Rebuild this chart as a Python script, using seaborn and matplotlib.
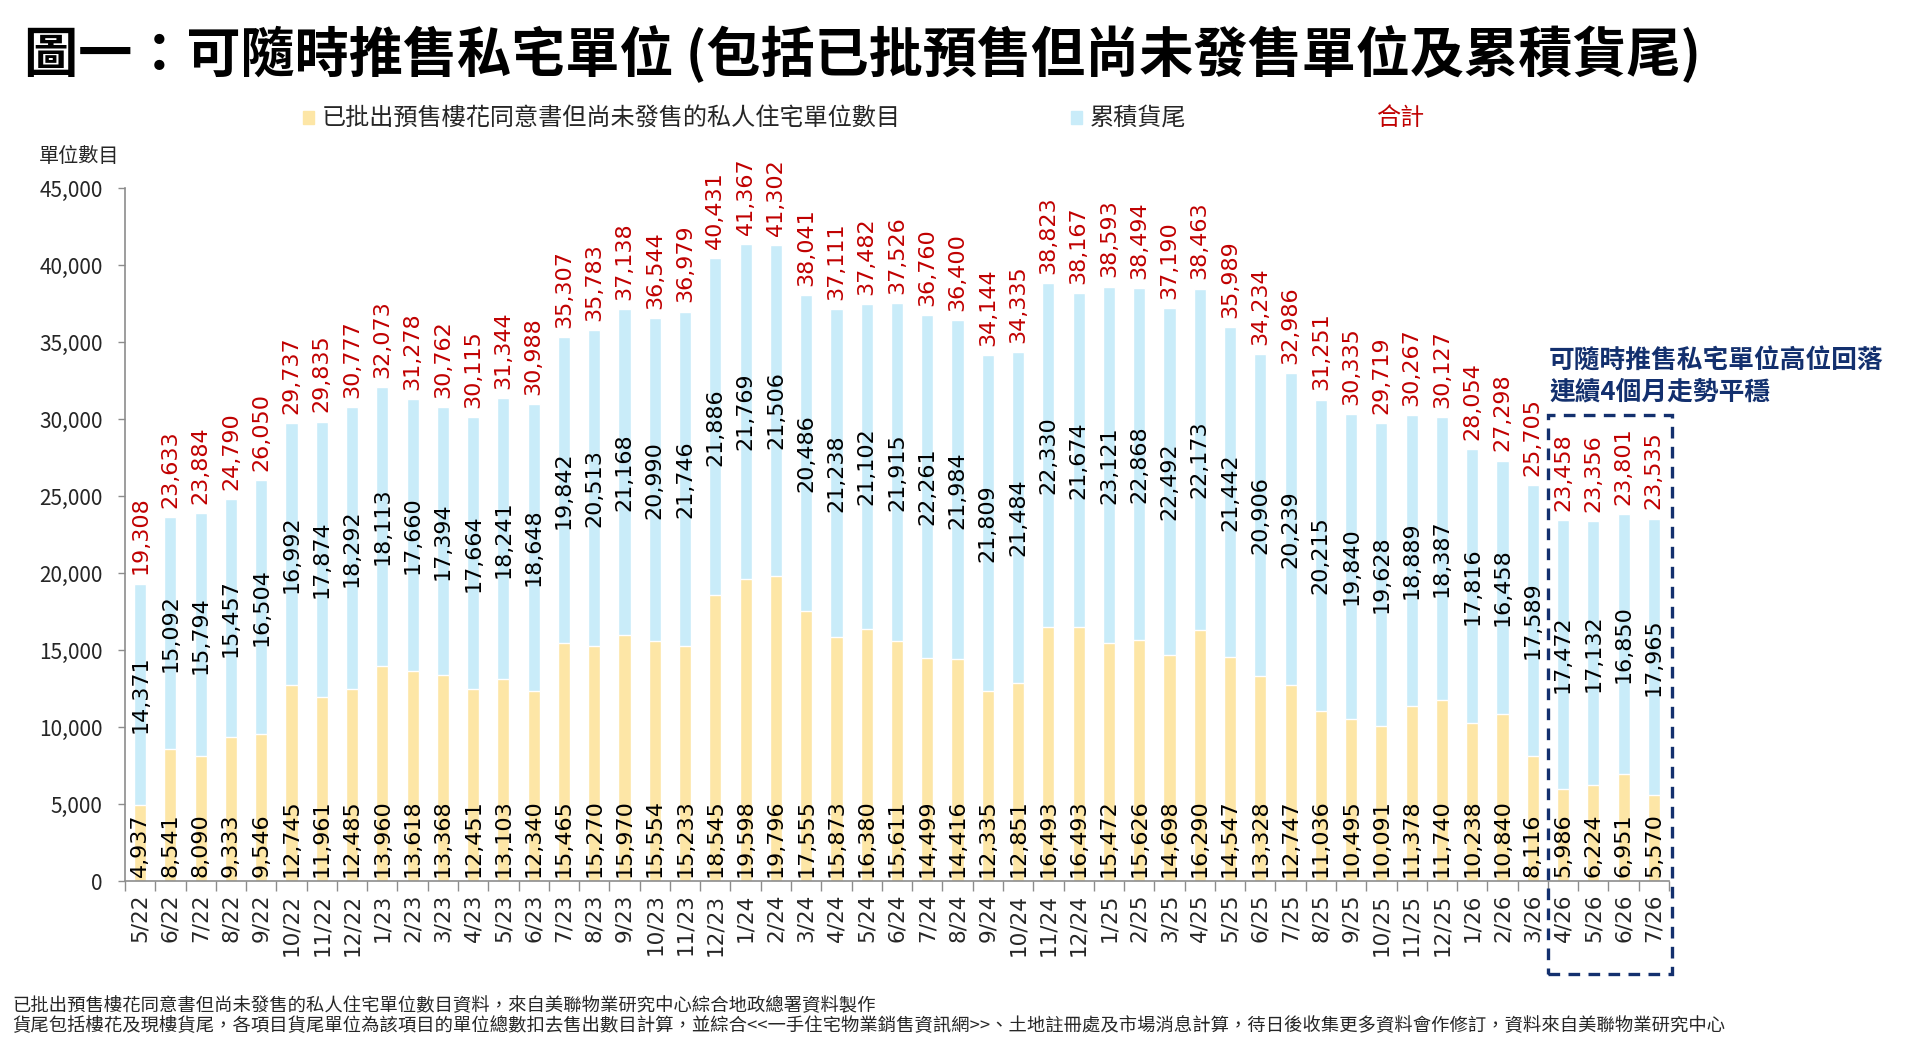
import matplotlib
matplotlib.use('Agg')
import matplotlib.pyplot as plt
import numpy as np
import pandas as pd
import seaborn as sns
from matplotlib.patches import Rectangle
from matplotlib.ticker import FuncFormatter, FixedLocator

# ---------------- data ----------------
months = ['5/22', '6/22', '7/22', '8/22', '9/22', '10/22', '11/22', '12/22',
          '1/23', '2/23', '3/23', '4/23', '5/23', '6/23', '7/23', '8/23', '9/23',
          '10/23', '11/23', '12/23', '1/24', '2/24', '3/24', '4/24', '5/24', '6/24',
          '7/24', '8/24', '9/24', '10/24', '11/24', '12/24', '1/25', '2/25', '3/25',
          '4/25', '5/25', '6/25', '7/25', '8/25', '9/25', '10/25', '11/25', '12/25',
          '1/26', '2/26', '3/26', '4/26', '5/26', '6/26', '7/26']

presale = [4937, 8541, 8090, 9333, 9546, 12745, 11961, 12485, 13960, 13618, 13368,
           12451, 13103, 12340, 15465, 15270, 15970, 15554, 15233, 18545, 19598,
           19796, 17555, 15873, 16380, 15611, 14499, 14416, 12335, 12851, 16493,
           16493, 15472, 15626, 14698, 16290, 14547, 13328, 12747, 11036, 10495,
           10091, 11378, 11740, 10238, 10840, 8116, 5986, 6224, 6951, 5570]

inventory = [14371, 15092, 15794, 15457, 16504, 16992, 17874, 18292, 18113, 17660,
             17394, 17664, 18241, 18648, 19842, 20513, 21168, 20990, 21746, 21886,
             21769, 21506, 20486, 21238, 21102, 21915, 22261, 21984, 21809, 21484,
             22330, 21674, 23121, 22868, 22492, 22173, 21442, 20906, 20239, 20215,
             19840, 19628, 18889, 18387, 17816, 16458, 17589, 17472, 17132, 16850,
             17965]

totals = [19308, 23633, 23884, 24790, 26050, 29737, 29835, 30777, 32073, 31278,
          30762, 30115, 31344, 30988, 35307, 35783, 37138, 36544, 36979, 40431,
          41367, 41302, 38041, 37111, 37482, 37526, 36760, 36400, 34144, 34335,
          38823, 38167, 38593, 38494, 37190, 38463, 35989, 34234, 32986, 31251,
          30335, 29719, 30267, 30127, 28054, 27298, 25705, 23458, 23356, 23801,
          23535]

y_ticks = [0, 5000, 10000, 15000, 20000, 25000, 30000, 35000, 40000, 45000]
highlight_start = '4/26'

title = '圖一：可隨時推售私宅單位 (包括已批預售但尚未發售單位及累積貨尾)'
legend_labels = ['已批出預售樓花同意書但尚未發售的私人住宅單位數目', '累積貨尾', '合計']
y_label = '單位數目'
note_lines = ['可隨時推售私宅單位高位回落', '連續4個月走勢平穩']
footnotes = ['已批出預售樓花同意書但尚未發售的私人住宅單位數目資料，來自美聯物業研究中心綜合地政總署資料製作',
             '貨尾包括樓花及現樓貨尾，各項目貨尾單位為該項目的單位總數扣去售出數目計算，並綜合<<一手住宅物業銷售資訊網>>、土地註冊處及市場消息計算，待日後收集更多資料會作修訂，資料來自美聯物業研究中心']

# ---------------- style ----------------
YELLOW = '#FDE6A6'
BLUE = '#C9ECF9'
RED = '#C00000'
NAVY = '#13306E'
GREY = '#8C8C8C'

sns.set_theme(style='white')
plt.rcParams['font.family'] = ['Noto Sans CJK TC', 'DejaVu Sans']

W, H = 1909, 1051
fig = plt.figure(figsize=(W / 100, H / 100), dpi=100)
ax = fig.add_axes([125 / W, 170 / H, 1544 / W, 693 / H])

df = pd.DataFrame({'month': months, 'presale': presale,
                   'inventory': inventory, 'total': totals})

sns.barplot(data=df, x='month', y='total', color=BLUE, saturation=1,
            width=0.4, errorbar=None, ax=ax)
sns.barplot(data=df, x='month', y='presale', color=YELLOW, saturation=1,
            width=0.4, errorbar=None, ax=ax)

ax.set_xlim(-0.5, len(months) - 0.5)
ax.set_ylim(0, 45000)
ax.set_xlabel('')
ax.set_ylabel('')

# data labels
lab_fs = 16
for i in range(len(months)):
    p, v, t = presale[i], inventory[i], totals[i]
    ax.text(i, 280, f'{p:,}', rotation=90, ha='center', va='bottom',
            fontsize=lab_fs, family='DejaVu Sans', color='black')
    ax.text(i, p + v / 2, f'{v:,}', rotation=90, ha='center', va='center',
            fontsize=lab_fs, family='DejaVu Sans', color='black')
    ax.text(i, t + 600, f'{t:,}', rotation=90, ha='center', va='bottom',
            fontsize=lab_fs, family='DejaVu Sans', color=RED)

# axes styling
for s in ['top', 'right']:
    ax.spines[s].set_visible(False)
for s in ['left', 'bottom']:
    ax.spines[s].set_color(GREY)
    ax.spines[s].set_linewidth(1.2)

ax.yaxis.set_major_locator(FixedLocator(y_ticks))
ax.yaxis.set_major_formatter(FuncFormatter(lambda v, _: f'{int(v):,}'))
ax.tick_params(axis='y', which='major', left=True, length=5, width=1.0,
               color=GREY, pad=11, labelsize=15)
for lab in ax.get_yticklabels():
    lab.set_family(['Noto Sans CJK TC', 'DejaVu Sans'])

ax.set_xticks(range(len(months)))
ax.set_xticklabels(months, rotation=90, family='DejaVu Sans', fontsize=15.5)
ax.tick_params(axis='x', which='major', bottom=True, length=0, pad=9)
ax.set_xticks(np.arange(-0.5, len(months), 1.0), minor=True)
ax.tick_params(axis='x', which='minor', bottom=True, length=7, width=1.0,
               color=GREY)

# highlight box
i0 = months.index(highlight_start)
box = Rectangle((i0 - 0.5, -6040), len(months) - 1 + 0.6 - (i0 - 0.5), 36300,
                fill=False, edgecolor=NAVY, linewidth=2.4,
                linestyle=(0, (3.5, 2.5)), clip_on=False, zorder=5)
ax.add_patch(box)

# title
fig.text(24 / W, 1 - 55 / H, title, fontsize=39, fontweight='bold',
         va='center', ha='left', color='black')

# legend (manual)
leg_y = 1 - 118 / H
fig.patches.append(Rectangle((303 / W, leg_y - 6 / H), 11 / W, 13 / H,
                             transform=fig.transFigure, color=YELLOW))
fig.text(322 / W, leg_y, legend_labels[0], fontsize=17.4, va='center', ha='left')
fig.patches.append(Rectangle((1071 / W, leg_y - 6 / H), 11 / W, 13 / H,
                             transform=fig.transFigure, color=BLUE))
fig.text(1090 / W, leg_y, legend_labels[1], fontsize=17.4, va='center', ha='left')
fig.text(1376 / W, leg_y, legend_labels[2], fontsize=17.4, va='center', ha='left',
         color=RED)

# y unit label
fig.text(39 / W, 1 - 156 / H, y_label, fontsize=14.5, va='center', ha='left')

# annotation
fig.text(1549 / W, 1 - 360 / H, note_lines[0], fontsize=18.5, fontweight='bold',
         color=NAVY, va='center', ha='left')
fig.text(1549 / W, 1 - 392 / H, note_lines[1], fontsize=18.5, fontweight='bold',
         color=NAVY, va='center', ha='left')

# footnotes
fig.text(12 / W, 1 - 1006 / H, footnotes[0], fontsize=13.2, va='center', ha='left')
fig.text(12 / W, 1 - 1026 / H, footnotes[1], fontsize=13.2, va='center', ha='left')

fig.savefig('out.png', dpi=100)
